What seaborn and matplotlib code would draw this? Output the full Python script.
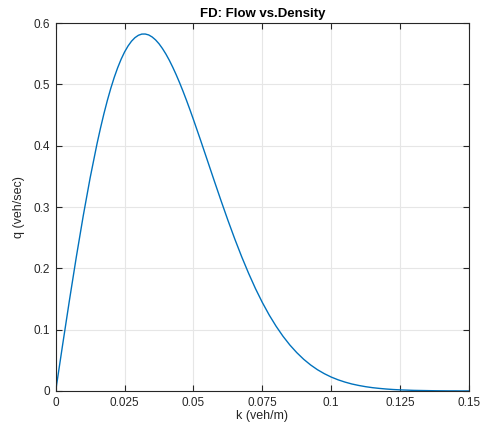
import pandas as pd
import matplotlib
matplotlib.use("Agg")
import matplotlib.pyplot as plt
import seaborn as sns

# density k (veh/m) and flow q (veh/sec)
k = [0.0, 0.0025, 0.005, 0.0075, 0.01, 0.0125, 0.015, 0.01625, 0.0175, 0.01875,
     0.02, 0.02125, 0.0225, 0.02375, 0.025, 0.02625, 0.0275, 0.02875, 0.03,
     0.03125, 0.0325, 0.03375, 0.035, 0.03625, 0.0375, 0.03875, 0.04, 0.04125,
     0.0425, 0.04375, 0.045, 0.04625, 0.0475, 0.04875,
     0.05, 0.0525, 0.055, 0.0575, 0.06, 0.0625, 0.065, 0.0675, 0.07, 0.0725,
     0.075, 0.0775, 0.08, 0.0825, 0.085, 0.0875, 0.09, 0.0925, 0.095, 0.0975,
     0.1, 0.1025, 0.105, 0.1075, 0.11, 0.1125, 0.115, 0.1175, 0.12, 0.1225,
     0.125, 0.1275, 0.13, 0.1325, 0.135, 0.1375, 0.14, 0.1425, 0.145, 0.1475,
     0.15]
q = [0.0, 0.0748, 0.1482, 0.2189, 0.2857, 0.3475, 0.4032, 0.4285, 0.4521, 0.4738,
     0.4936, 0.5114, 0.5272, 0.5410, 0.5528, 0.5625, 0.5703, 0.5761, 0.5800,
     0.5820, 0.5821, 0.5806, 0.5773, 0.5725, 0.5662, 0.5584, 0.5494, 0.5392,
     0.5278, 0.5155, 0.5023, 0.4883, 0.4736, 0.4583,
     0.4425, 0.4100, 0.3767, 0.3433, 0.3104, 0.2784, 0.2478, 0.2189, 0.1920, 0.1670,
     0.1443, 0.1238, 0.1055, 0.0892, 0.0749, 0.0625, 0.0517, 0.0425, 0.0347, 0.0282,
     0.0227, 0.0182, 0.0145, 0.0114, 0.0090, 0.0070, 0.0054, 0.0042, 0.0032, 0.0024,
     0.0018, 0.0014, 0.0010, 0.0008, 0.0006, 0.0004, 0.0003, 0.0002, 0.0002, 0.0001,
     0.0001]
xticks = [0, 0.025, 0.05, 0.075, 0.1, 0.125, 0.15]
xticklabels = ["0", "0.025", "0.05", "0.075", "0.1", "0.125", "0.15"]
yticks = [0, 0.1, 0.2, 0.3, 0.4, 0.5, 0.6]
yticklabels = ["0", "0.1", "0.2", "0.3", "0.4", "0.5", "0.6"]

df = pd.DataFrame({"k": k, "q": q})

sns.set_style("whitegrid")
plt.rcParams["font.family"] = ["Liberation Sans", "DejaVu Sans"]

fig = plt.figure(figsize=(4.95, 4.29), dpi=100)
ax = fig.add_axes([0.1125, 0.0886, 0.835, 0.8577])
sns.lineplot(data=df, x="k", y="q", color="#0072BD", linewidth=1.0, ax=ax)

ax.set_xlim(0, 0.15)
ax.set_ylim(0, 0.6)
ax.set_xticks(xticks)
ax.set_xticklabels(xticklabels)
ax.set_yticks(yticks)
ax.set_yticklabels(yticklabels)
ax.grid(True, color="#e6e6e6", linewidth=0.8)
ax.set_axisbelow(True)
for s in ax.spines.values():
    s.set_visible(True)
    s.set_color("#262626")
    s.set_linewidth(0.8)
ax.tick_params(direction="in", length=4, width=0.8, color="#262626",
               labelsize=8.5, labelcolor="#262626",
               top=True, right=True, bottom=True, left=True, pad=4)
ax.set_xlabel("k (veh/m)", fontsize=9, color="#262626", labelpad=1)
ax.set_ylabel("q (veh/sec)", fontsize=9, color="#262626", labelpad=6)
ax.set_title("FD: Flow vs.Density", fontsize=9.5, fontweight="bold",
             color="black", pad=4)

fig.savefig("out.png", dpi=100, facecolor="white")
